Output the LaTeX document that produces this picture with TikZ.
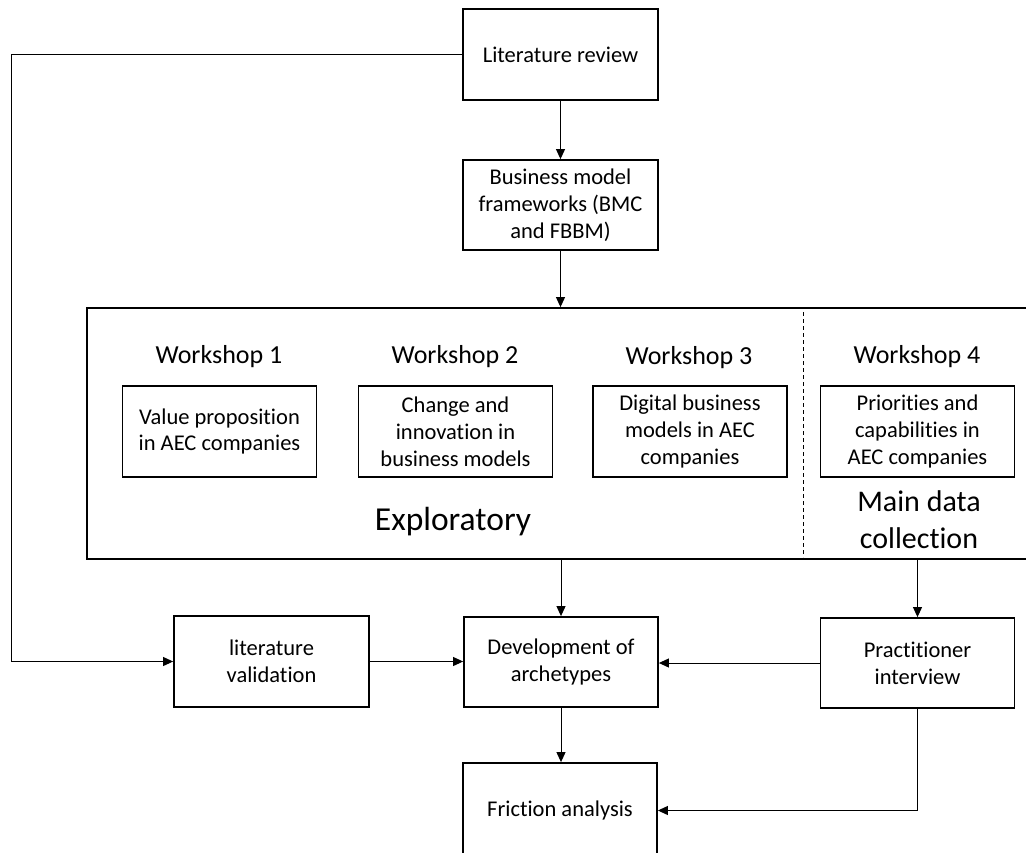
\documentclass[tikz,border=0pt]{standalone}
\usepackage{fontspec}
\setmainfont{Carlito}[Ligatures=NoCommon]
\usetikzlibrary{arrows.meta}
\begin{document}
\begin{tikzpicture}[x=1pt,y=-1pt,
  box/.style={draw, line width=1.8pt, inner sep=0pt, align=center,
              font=\fontsize{22.5}{26.8}\selectfont},
  wsbox/.style={box, line width=1.6pt, minimum width=194pt, minimum height=91pt},
  conn/.style={line width=1pt, -{Triangle[length=10pt,width=9pt]}},
  wslabel/.style={inner sep=0pt, font=\fontsize{26}{31}\selectfont},
  biglabel/.style={inner sep=0pt, align=center, font=\fontsize{30}{37}\selectfont}]
\useasboundingbox (0,0) rectangle (1026,852);

% top
\node[box, minimum width=195pt, minimum height=91pt] (lr) at (560.5,54.5) {Literature review};
\node[box, minimum width=195pt, minimum height=90pt] (bmf) at (560.5,205) {Business model\\frameworks (BMC\\and FBBM)};

% big box
\node[draw, line width=1.8pt, inner sep=0pt, minimum width=945pt, minimum height=251pt] (big) at (559.5,433.5) {};
\draw[dashed, dash pattern=on 4pt off 3pt, line width=0.8pt] (803,312) -- (803,557);

\node[wsbox] (ws1) at (219.5,431.5) {Value proposition\\in AEC companies};
\node[wsbox] (ws2) at (455.5,431.5) {Change and\\innovation in\\business models};
\node[wsbox] (ws3) at (690,431.5) {Digital business\\models in AEC\\companies};
\node[wsbox] (ws4) at (917.5,431.5) {Priorities and\\capabilities in\\AEC companies};

\node[wslabel] (w1) at (219,357) {Workshop 1};
\node[wslabel] (w2) at (455,357) {Workshop 2};
\node[wslabel] (w3) at (689,358) {Workshop 3};
\node[wslabel] (w4) at (917,357) {Workshop 4};

\node[inner sep=0pt, font=\fontsize{33.5}{40}\selectfont] (expl) at (453,522) {Exploratory};
\node[biglabel] (mdc) at (919,520) {Main data\\collection};

% bottom row
\node[box, minimum width=195pt, minimum height=91pt] (lv) at (271.5,661.5) {literature\\validation};
\node[box, minimum width=194pt, minimum height=90pt] (dev) at (561,662) {Development of\\archetypes};
\node[box, minimum width=194pt, minimum height=90pt] (pi) at (917.5,663) {Practitioner\\interview};
\node[box, minimum width=194pt, minimum height=95pt] (fa) at (560,810.5) {Friction analysis};

\coordinate (lft) at (11,0);

% connectors
\draw[conn] (lr.south) -- (bmf.north);
\draw[conn] (bmf.south) -- (bmf.south |- big.north);
\draw[conn] (lr.west) -- (lr.west -| lft) |- (lv.west);
\draw[conn] (dev.north |- big.south) -- (dev.north);
\draw[conn] (pi.north |- big.south) -- (pi.north);
\draw[conn] (lv.east) -- (lv.east -| dev.west);
\draw[conn] (pi.west) -- (pi.west -| dev.east);
\draw[conn] (dev.south) -- (dev.south |- fa.north);
\draw[conn] (pi.south) |- (fa.east);
\end{tikzpicture}
\end{document}
